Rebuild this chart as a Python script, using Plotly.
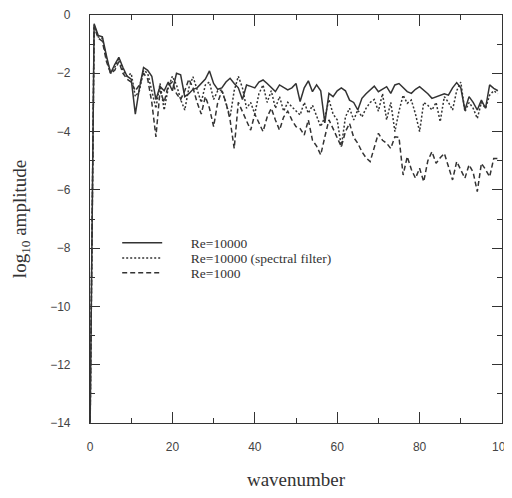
import plotly.graph_objects as go

wavenumber = list(range(0, 100))

re10000 = [-14.5, -0.3, -0.7, -0.75, -1.4, -2.0, -1.7, -1.45, -1.8, -2.1,
           -2.2, -3.4, -2.5, -1.8, -1.9, -2.1, -2.9, -2.45, -2.6, -2.3,
           -2.6, -2.0, -2.05, -2.8, -2.7, -2.55, -2.5, -2.35, -2.2, -1.92,
           -2.35, -2.55, -2.5, -2.3, -2.17, -2.35, -2.5, -2.9, -2.4, -2.45,
           -2.5, -2.3, -2.23, -2.35, -2.5, -2.63, -2.4, -2.5, -2.57, -2.5,
           -2.35, -2.97, -2.5, -2.26, -2.63, -2.4, -2.6, -3.7, -2.69, -2.8,
           -2.6, -2.5, -2.6, -2.92, -3.0, -3.26, -2.86, -2.7, -2.57, -2.44,
           -2.63, -2.55, -2.46, -2.69, -2.4, -2.35, -2.5, -2.63, -2.69, -2.55,
           -2.46, -2.57, -2.7, -2.86, -2.8, -2.75, -2.7, -2.75, -2.5, -2.32,
           -2.5, -3.26, -2.8, -3.0, -3.26, -2.92, -3.2, -2.4, -2.52, -2.6]

re10000_filter = [-14.5, -0.35, -0.75, -0.8, -1.5, -2.0, -1.8, -1.5, -1.9, -2.1,
                  -2.0, -2.8, -2.6, -1.9, -2.0, -2.6, -3.2, -2.35, -3.26, -2.5,
                  -2.1, -2.4, -2.9, -3.26, -2.5, -2.12, -2.6, -3.0, -2.4, -2.3,
                  -2.9, -2.6, -2.57, -3.0, -3.5, -2.6, -2.1, -2.5, -3.2, -3.0,
                  -3.4, -2.7, -2.4, -3.0, -2.6, -3.2, -2.8, -3.3, -3.0, -3.15,
                  -3.3, -3.43, -3.0, -3.37, -3.1, -3.5, -3.83, -3.5, -2.9, -3.4,
                  -3.6, -4.52, -3.5, -3.2, -3.6, -3.26, -3.5, -3.2, -3.0, -2.9,
                  -3.3, -2.7, -3.6, -3.0, -4.0, -3.3, -2.75, -3.03, -2.92, -3.4,
                  -4.0, -3.0, -3.1, -3.26, -3.0, -3.66, -2.8, -3.0, -3.26, -2.6,
                  -2.3, -3.32, -3.0, -3.2, -3.55, -3.0, -3.2, -2.75, -2.6, -2.7]

re1000 = [-14.5, -0.4, -0.8, -0.9, -1.6, -2.0, -1.9, -1.6, -2.0, -2.2,
          -2.3, -2.6, -2.4, -2.0, -2.2, -3.0, -4.18, -2.6, -3.0, -2.4,
          -2.3, -2.7, -2.9, -2.6, -2.2, -2.5, -3.0, -3.4, -2.8, -3.2,
          -3.83, -3.0, -2.6, -3.0, -3.6, -4.58, -3.0, -3.3, -3.6, -3.95,
          -3.4, -3.7, -4.0, -3.5, -3.2, -3.6, -3.95, -3.5, -3.3, -3.6,
          -3.83, -3.9, -4.12, -3.6, -4.3, -4.5, -4.8, -4.18, -3.6, -3.9,
          -4.2, -4.52, -4.0, -3.72, -4.2, -4.4, -4.69, -4.9, -5.03, -4.5,
          -4.06, -4.3, -4.4, -4.58, -4.18, -4.2, -5.49, -4.86, -5.3, -5.6,
          -5.26, -5.72, -5.0, -4.69, -5.09, -4.9, -4.75, -5.2, -5.66, -5.03,
          -5.3, -5.6, -5.14, -5.4, -6.06, -5.09, -5.3, -5.55, -4.92, -4.92]

x_ticks = [0, 20, 40, 60, 80, 100]
y_ticks = [0, -2, -4, -6, -8, -10, -12, -14]

ink = "#333333"
legend_font = dict(family="Liberation Serif", size=13.5, color=ink)
pad = "\u00a0" * 7

fig = go.Figure()
fig.add_trace(go.Scatter(x=wavenumber, y=re10000, mode="lines", name=pad + "Re=10000",
                         legend="legend",
                         line=dict(color=ink, width=1.5, dash="solid")))
fig.add_trace(go.Scatter(x=wavenumber, y=re10000_filter, mode="lines",
                         name=pad + "Re=10000 (spectral filter)", legend="legend2",
                         line=dict(color=ink, width=1.5, dash="2px,2px")))
fig.add_trace(go.Scatter(x=wavenumber, y=re1000, mode="lines", name=pad + "Re=1000",
                         legend="legend3",
                         line=dict(color=ink, width=1.5, dash="5px,3px")))

tickfont = dict(family="Liberation Sans", size=12, color="#444444")
fig.update_xaxes(range=[0, 100], tickvals=x_ticks, ticktext=[str(v) for v in x_ticks],
                 ticks="inside", ticklen=11, tickwidth=1, tickcolor=ink,
                 minor=dict(dtick=10, ticks="inside", ticklen=5, tickcolor=ink, showgrid=False),
                 showline=True, linecolor=ink, linewidth=1.2, mirror="allticks",
                 showgrid=False, zeroline=False, tickfont=tickfont, automargin=False,
                 ticklabelstandoff=12, ticklabeloverflow="allow",
                 title=dict(text="wavenumber", font=dict(family="Liberation Serif", size=19, color=ink),
                            standoff=28))
fig.update_yaxes(range=[-14, 0], tickvals=y_ticks,
                 ticktext=["0" if v == 0 else "\u2212" + str(-v) for v in y_ticks],
                 ticks="inside", ticklen=10, tickwidth=1, tickcolor=ink,
                 minor=dict(dtick=1, ticks="inside", ticklen=5, tickcolor=ink, showgrid=False),
                 showline=True, linecolor=ink, linewidth=1.2, mirror="allticks",
                 showgrid=False, zeroline=False, tickfont=tickfont, automargin=False,
                 ticklabelstandoff=16, ticklabeloverflow="allow",
                 title=dict(text="log<sub>10</sub> amplitude",
                            font=dict(family="Liberation Serif", size=19, color=ink),
                            standoff=18))

leg = dict(x=0.066, xanchor="left", yanchor="middle", bgcolor="rgba(0,0,0,0)",
           borderwidth=0, font=legend_font, itemwidth=40)
fig.update_layout(
    width=504, height=482,
    margin=dict(l=82, r=10, t=7, b=67),
    paper_bgcolor="white", plot_bgcolor="white",
    showlegend=True,
    legend=dict(leg, y=0.441),
    legend2=dict(leg, y=0.404),
    legend3=dict(leg, y=0.368),
)

fig.write_html("out.html")
